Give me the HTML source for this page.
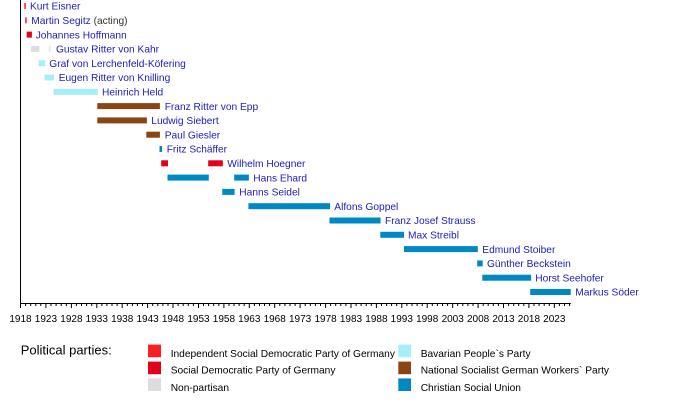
<!DOCTYPE html>
<html>
<head>
<meta charset="utf-8">
<style>
html,body{margin:0;padding:0;background:#fff;}
svg{display:block;}
text{font-family:"Liberation Sans",Arial,sans-serif;}
.l{font-size:10.2px;fill:#1c1cbf;}
.t{font-size:10px;fill:#000;}
.g{font-size:10.2px;fill:#000;}
</style>
</head>
<body>
<svg width="700" height="403" viewBox="0 0 700 403" xmlns="http://www.w3.org/2000/svg">
<rect width="700" height="403" fill="#fff"/>
<!-- bars -->
<g>
<rect x="24.3" y="3" width="1.5" height="6" fill="#f82020"/>
<rect x="25.3" y="17.3" width="1.3" height="6" fill="#e2001a"/>
<rect x="26.7" y="31.6" width="5.2" height="6" fill="#e2001a"/>
<rect x="31" y="45.9" width="8.3" height="6" fill="#dddddd"/>
<rect x="48.8" y="45.9" width="1.8" height="6" fill="#e6e6e6"/>
<rect x="38.6" y="60.2" width="6.6" height="6" fill="#a8eef8"/>
<rect x="44.5" y="74.5" width="9.5" height="6" fill="#a8eef8"/>
<rect x="53.5" y="88.8" width="44.3" height="6" fill="#a8eef8"/>
<rect x="97.3" y="103.1" width="62.6" height="6" fill="#8b4513"/>
<rect x="97.3" y="117.4" width="49.6" height="6" fill="#8b4513"/>
<rect x="146.3" y="131.7" width="13.6" height="6" fill="#8b4513"/>
<rect x="159.5" y="146" width="2.5" height="6" fill="#0088c4"/>
<rect x="161.2" y="160.3" width="6.8" height="6" fill="#e2001a"/>
<rect x="208.2" y="160.3" width="14.6" height="6" fill="#e2001a"/>
<rect x="167.5" y="174.6" width="41.3" height="6" fill="#0088c4"/>
<rect x="234.2" y="174.6" width="14.7" height="6" fill="#0088c4"/>
<rect x="222.3" y="188.9" width="12.3" height="6" fill="#0088c4"/>
<rect x="248.4" y="203.2" width="81.6" height="6" fill="#0088c4"/>
<rect x="329.5" y="217.5" width="51.1" height="6" fill="#0088c4"/>
<rect x="380.3" y="231.8" width="23.7" height="6" fill="#0088c4"/>
<rect x="404" y="246.1" width="73.8" height="6" fill="#0088c4"/>
<rect x="477.2" y="260.4" width="5.5" height="6" fill="#0088c4"/>
<rect x="482.3" y="274.7" width="48.8" height="6" fill="#0088c4"/>
<rect x="530.2" y="289" width="40.5" height="6" fill="#0088c4"/>
</g>
<!-- labels -->
<g class="l">
<text x="30" y="9.7">Kurt Eisner</text>
<text x="31.3" y="24">Martin Segitz <tspan fill="#333">(acting)</tspan></text>
<text x="35.7" y="38.3">Johannes Hoffmann</text>
<text x="56" y="52.6">Gustav Ritter von Kahr</text>
<text x="49.3" y="66.9">Graf von Lerchenfeld-Köfering</text>
<text x="58.7" y="81.2">Eugen Ritter von Knilling</text>
<text x="102" y="95.5">Heinrich Held</text>
<text x="164.7" y="109.8">Franz Ritter von Epp</text>
<text x="151.3" y="124.1">Ludwig Siebert</text>
<text x="164.7" y="138.4">Paul Giesler</text>
<text x="166.7" y="152.7">Fritz Schäffer</text>
<text x="227.3" y="167">Wilhelm Hoegner</text>
<text x="253.3" y="181.3">Hans Ehard</text>
<text x="239.3" y="195.6">Hanns Seidel</text>
<text x="334.3" y="209.9">Alfons Goppel</text>
<text x="385" y="224.2">Franz Josef Strauss</text>
<text x="408" y="238.5">Max Streibl</text>
<text x="482.3" y="252.8">Edmund Stoiber</text>
<text x="487" y="267.1">Günther Beckstein</text>
<text x="535.3" y="281.4">Horst Seehofer</text>
<text x="575.3" y="295.7">Markus Söder</text>
</g>
<!-- axes -->
<line x1="20.5" y1="0" x2="20.5" y2="304" stroke="#000" stroke-width="1"/>
<line x1="20" y1="303.5" x2="570.8" y2="303.5" stroke="#000" stroke-width="1"/>
<g stroke="#000" stroke-width="1" id="ticks"></g>
<g class="t" text-anchor="middle" id="tlabels"></g>
<!-- legend -->
<text x="20.7" y="354.7" style="font-size:13px;fill:#000;">Political parties:</text>
<rect x="148" y="344.6" width="13" height="12.6" fill="#f82020"/>
<rect x="148" y="361.6" width="13" height="12.6" fill="#e2001a"/>
<rect x="148" y="378.4" width="13" height="12.6" fill="#dddddd"/>
<rect x="398.3" y="344.6" width="12.7" height="12.6" fill="#a8eef8"/>
<rect x="398.3" y="361.6" width="12.7" height="12.6" fill="#8b4513"/>
<rect x="398.3" y="378.4" width="12.7" height="12.6" fill="#0088c4"/>
<g class="g">
<text x="170.7" y="356.9">Independent Social Democratic Party of Germany</text>
<text x="170.7" y="373.6">Social Democratic Party of Germany</text>
<text x="170.7" y="390.9">Non-partisan</text>
<text x="420.7" y="356.9">Bavarian People`s Party</text>
<text x="420.7" y="373.6">National Socialist German Workers` Party</text>
<text x="420.7" y="390.9">Christian Social Union</text>
</g>
<g stroke="#000" stroke-width="1">
<line x1="20.5" y1="303" x2="20.5" y2="308"/><line x1="25.6" y1="303" x2="25.6" y2="306"/><line x1="30.7" y1="303" x2="30.7" y2="306"/><line x1="35.8" y1="303" x2="35.8" y2="306"/><line x1="40.8" y1="303" x2="40.8" y2="306"/>
<line x1="45.9" y1="303" x2="45.9" y2="308"/><line x1="51" y1="303" x2="51" y2="306"/><line x1="56.1" y1="303" x2="56.1" y2="306"/><line x1="61.2" y1="303" x2="61.2" y2="306"/><line x1="66.3" y1="303" x2="66.3" y2="306"/>
<line x1="71.4" y1="303" x2="71.4" y2="308"/><line x1="76.4" y1="303" x2="76.4" y2="306"/><line x1="81.5" y1="303" x2="81.5" y2="306"/><line x1="86.6" y1="303" x2="86.6" y2="306"/><line x1="91.7" y1="303" x2="91.7" y2="306"/>
<line x1="96.8" y1="303" x2="96.8" y2="308"/><line x1="101.9" y1="303" x2="101.9" y2="306"/><line x1="106.9" y1="303" x2="106.9" y2="306"/><line x1="112" y1="303" x2="112" y2="306"/><line x1="117.1" y1="303" x2="117.1" y2="306"/>
<line x1="122.2" y1="303" x2="122.2" y2="308"/><line x1="127.3" y1="303" x2="127.3" y2="306"/><line x1="132.4" y1="303" x2="132.4" y2="306"/><line x1="137.4" y1="303" x2="137.4" y2="306"/><line x1="142.5" y1="303" x2="142.5" y2="306"/>
<line x1="147.6" y1="303" x2="147.6" y2="308"/><line x1="152.7" y1="303" x2="152.7" y2="306"/><line x1="157.8" y1="303" x2="157.8" y2="306"/><line x1="162.9" y1="303" x2="162.9" y2="306"/><line x1="168" y1="303" x2="168" y2="306"/>
<line x1="173" y1="303" x2="173" y2="308"/><line x1="178.1" y1="303" x2="178.1" y2="306"/><line x1="183.2" y1="303" x2="183.2" y2="306"/><line x1="188.3" y1="303" x2="188.3" y2="306"/><line x1="193.4" y1="303" x2="193.4" y2="306"/>
<line x1="198.5" y1="303" x2="198.5" y2="308"/><line x1="203.5" y1="303" x2="203.5" y2="306"/><line x1="208.6" y1="303" x2="208.6" y2="306"/><line x1="213.7" y1="303" x2="213.7" y2="306"/><line x1="218.8" y1="303" x2="218.8" y2="306"/>
<line x1="223.9" y1="303" x2="223.9" y2="308"/><line x1="229" y1="303" x2="229" y2="306"/><line x1="234" y1="303" x2="234" y2="306"/><line x1="239.1" y1="303" x2="239.1" y2="306"/><line x1="244.2" y1="303" x2="244.2" y2="306"/>
<line x1="249.3" y1="303" x2="249.3" y2="308"/><line x1="254.4" y1="303" x2="254.4" y2="306"/><line x1="259.5" y1="303" x2="259.5" y2="306"/><line x1="264.5" y1="303" x2="264.5" y2="306"/><line x1="269.6" y1="303" x2="269.6" y2="306"/>
<line x1="274.7" y1="303" x2="274.7" y2="308"/><line x1="279.8" y1="303" x2="279.8" y2="306"/><line x1="284.9" y1="303" x2="284.9" y2="306"/><line x1="290" y1="303" x2="290" y2="306"/><line x1="295.1" y1="303" x2="295.1" y2="306"/>
<line x1="300.1" y1="303" x2="300.1" y2="308"/><line x1="305.2" y1="303" x2="305.2" y2="306"/><line x1="310.3" y1="303" x2="310.3" y2="306"/><line x1="315.4" y1="303" x2="315.4" y2="306"/><line x1="320.5" y1="303" x2="320.5" y2="306"/>
<line x1="325.6" y1="303" x2="325.6" y2="308"/><line x1="330.6" y1="303" x2="330.6" y2="306"/><line x1="335.7" y1="303" x2="335.7" y2="306"/><line x1="340.8" y1="303" x2="340.8" y2="306"/><line x1="345.9" y1="303" x2="345.9" y2="306"/>
<line x1="351" y1="303" x2="351" y2="308"/><line x1="356.1" y1="303" x2="356.1" y2="306"/><line x1="361.1" y1="303" x2="361.1" y2="306"/><line x1="366.2" y1="303" x2="366.2" y2="306"/><line x1="371.3" y1="303" x2="371.3" y2="306"/>
<line x1="376.4" y1="303" x2="376.4" y2="308"/><line x1="381.5" y1="303" x2="381.5" y2="306"/><line x1="386.6" y1="303" x2="386.6" y2="306"/><line x1="391.6" y1="303" x2="391.6" y2="306"/><line x1="396.7" y1="303" x2="396.7" y2="306"/>
<line x1="401.8" y1="303" x2="401.8" y2="308"/><line x1="406.9" y1="303" x2="406.9" y2="306"/><line x1="412" y1="303" x2="412" y2="306"/><line x1="417.1" y1="303" x2="417.1" y2="306"/><line x1="422.2" y1="303" x2="422.2" y2="306"/>
<line x1="427.2" y1="303" x2="427.2" y2="308"/><line x1="432.3" y1="303" x2="432.3" y2="306"/><line x1="437.4" y1="303" x2="437.4" y2="306"/><line x1="442.5" y1="303" x2="442.5" y2="306"/><line x1="447.6" y1="303" x2="447.6" y2="306"/>
<line x1="452.7" y1="303" x2="452.7" y2="308"/><line x1="457.7" y1="303" x2="457.7" y2="306"/><line x1="462.8" y1="303" x2="462.8" y2="306"/><line x1="467.9" y1="303" x2="467.9" y2="306"/><line x1="473" y1="303" x2="473" y2="306"/>
<line x1="478.1" y1="303" x2="478.1" y2="308"/><line x1="483.2" y1="303" x2="483.2" y2="306"/><line x1="488.2" y1="303" x2="488.2" y2="306"/><line x1="493.3" y1="303" x2="493.3" y2="306"/><line x1="498.4" y1="303" x2="498.4" y2="306"/>
<line x1="503.5" y1="303" x2="503.5" y2="308"/><line x1="508.6" y1="303" x2="508.6" y2="306"/><line x1="513.7" y1="303" x2="513.7" y2="306"/><line x1="518.7" y1="303" x2="518.7" y2="306"/><line x1="523.8" y1="303" x2="523.8" y2="306"/>
<line x1="528.9" y1="303" x2="528.9" y2="308"/><line x1="534" y1="303" x2="534" y2="306"/><line x1="539.1" y1="303" x2="539.1" y2="306"/><line x1="544.2" y1="303" x2="544.2" y2="306"/><line x1="549.3" y1="303" x2="549.3" y2="306"/>
<line x1="554.3" y1="303" x2="554.3" y2="308"/><line x1="559.4" y1="303" x2="559.4" y2="306"/><line x1="564.5" y1="303" x2="564.5" y2="306"/><line x1="569.6" y1="303" x2="569.6" y2="306"/>
</g>
<g class="t" text-anchor="middle">
<text x="20.5" y="322">1918</text><text x="45.9" y="322">1923</text><text x="71.4" y="322">1928</text><text x="96.8" y="322">1933</text><text x="122.2" y="322">1938</text><text x="147.6" y="322">1943</text><text x="173" y="322">1948</text><text x="198.5" y="322">1953</text><text x="223.9" y="322">1958</text><text x="249.3" y="322">1963</text><text x="274.7" y="322">1968</text><text x="300.1" y="322">1973</text><text x="325.6" y="322">1978</text><text x="351" y="322">1983</text><text x="376.4" y="322">1988</text><text x="401.8" y="322">1993</text><text x="427.2" y="322">1998</text><text x="452.7" y="322">2003</text><text x="478.1" y="322">2008</text><text x="503.5" y="322">2013</text><text x="528.9" y="322">2018</text><text x="554.3" y="322">2023</text>
</g>
</svg>
</body>
</html>
